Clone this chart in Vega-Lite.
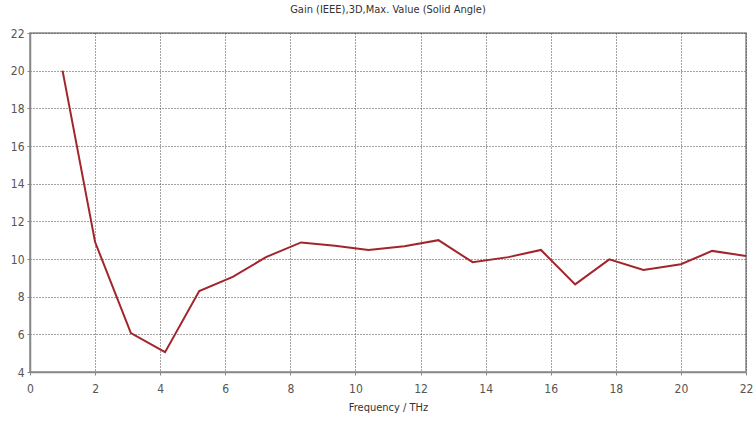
{
  "$schema": "https://vega.github.io/schema/vega-lite/v6.json",
  "autosize": "none",
  "width": 716,
  "height": 339,
  "padding": {"left": 30, "top": 33, "right": 7, "bottom": 51},
  "background": "white",
  "title": {
    "text": "Gain (IEEE),3D,Max. Value (Solid Angle)",
    "font": "DejaVu Sans Condensed, Liberation Sans Narrow, DejaVu Sans",
    "fontSize": 11,
    "fontWeight": "normal",
    "color": "#333333",
    "offset": 12,
    "anchor": "middle"
  },
  "config": {
    "view": {"stroke": "#888888", "strokeWidth": 1.5},
    "axis": {
      "labelFont": "DejaVu Sans Condensed, Liberation Sans Narrow, DejaVu Sans",
      "titleFont": "DejaVu Sans Condensed, Liberation Sans Narrow, DejaVu Sans",
      "labelFontSize": 12,
      "titleFontSize": 11,
      "titleFontWeight": "normal",
      "labelColor": "#555555",
      "titleColor": "#333333",
      "domainColor": "#888888",
      "domainWidth": 1.5,
      "tickColor": "#888888",
      "tickSize": 3,
      "gridColor": "#444444",
      "gridDash": [1, 2],
      "gridWidth": 1,
      "gridOpacity": 1
    }
  },
  "data": {
    "values": [
      {"f": 1.0, "gain": 20.0},
      {"f": 2.0, "gain": 10.9},
      {"f": 3.1, "gain": 6.07},
      {"f": 4.15, "gain": 5.05},
      {"f": 5.2, "gain": 8.3},
      {"f": 6.23, "gain": 9.05},
      {"f": 7.25, "gain": 10.1},
      {"f": 8.33, "gain": 10.88},
      {"f": 9.37, "gain": 10.7},
      {"f": 10.4, "gain": 10.48},
      {"f": 11.5, "gain": 10.68},
      {"f": 12.55, "gain": 11.0},
      {"f": 13.6, "gain": 9.83},
      {"f": 14.7, "gain": 10.1},
      {"f": 15.7, "gain": 10.48},
      {"f": 16.75, "gain": 8.65},
      {"f": 17.8, "gain": 9.98},
      {"f": 18.85, "gain": 9.42},
      {"f": 20.0, "gain": 9.72},
      {"f": 20.96, "gain": 10.43},
      {"f": 22.0, "gain": 10.16}
    ]
  },
  "mark": {"type": "line", "color": "#a3252c", "strokeWidth": 2},
  "encoding": {
    "x": {
      "field": "f",
      "type": "quantitative",
      "title": "Frequency / THz",
      "scale": {"domain": [0, 22], "nice": false, "zero": false},
      "axis": {"values": [0,2,4,6,8,10,12,14,16,18,20,22], "labelPadding": 8, "titlePadding": 7, "labelFlush": false}
    },
    "y": {
      "field": "gain",
      "type": "quantitative",
      "title": null,
      "scale": {"domain": [4, 22], "nice": false, "zero": false},
      "axis": {"values": [4,6,8,10,12,14,16,18,20,22], "labelPadding": 3}
    }
  }
}
